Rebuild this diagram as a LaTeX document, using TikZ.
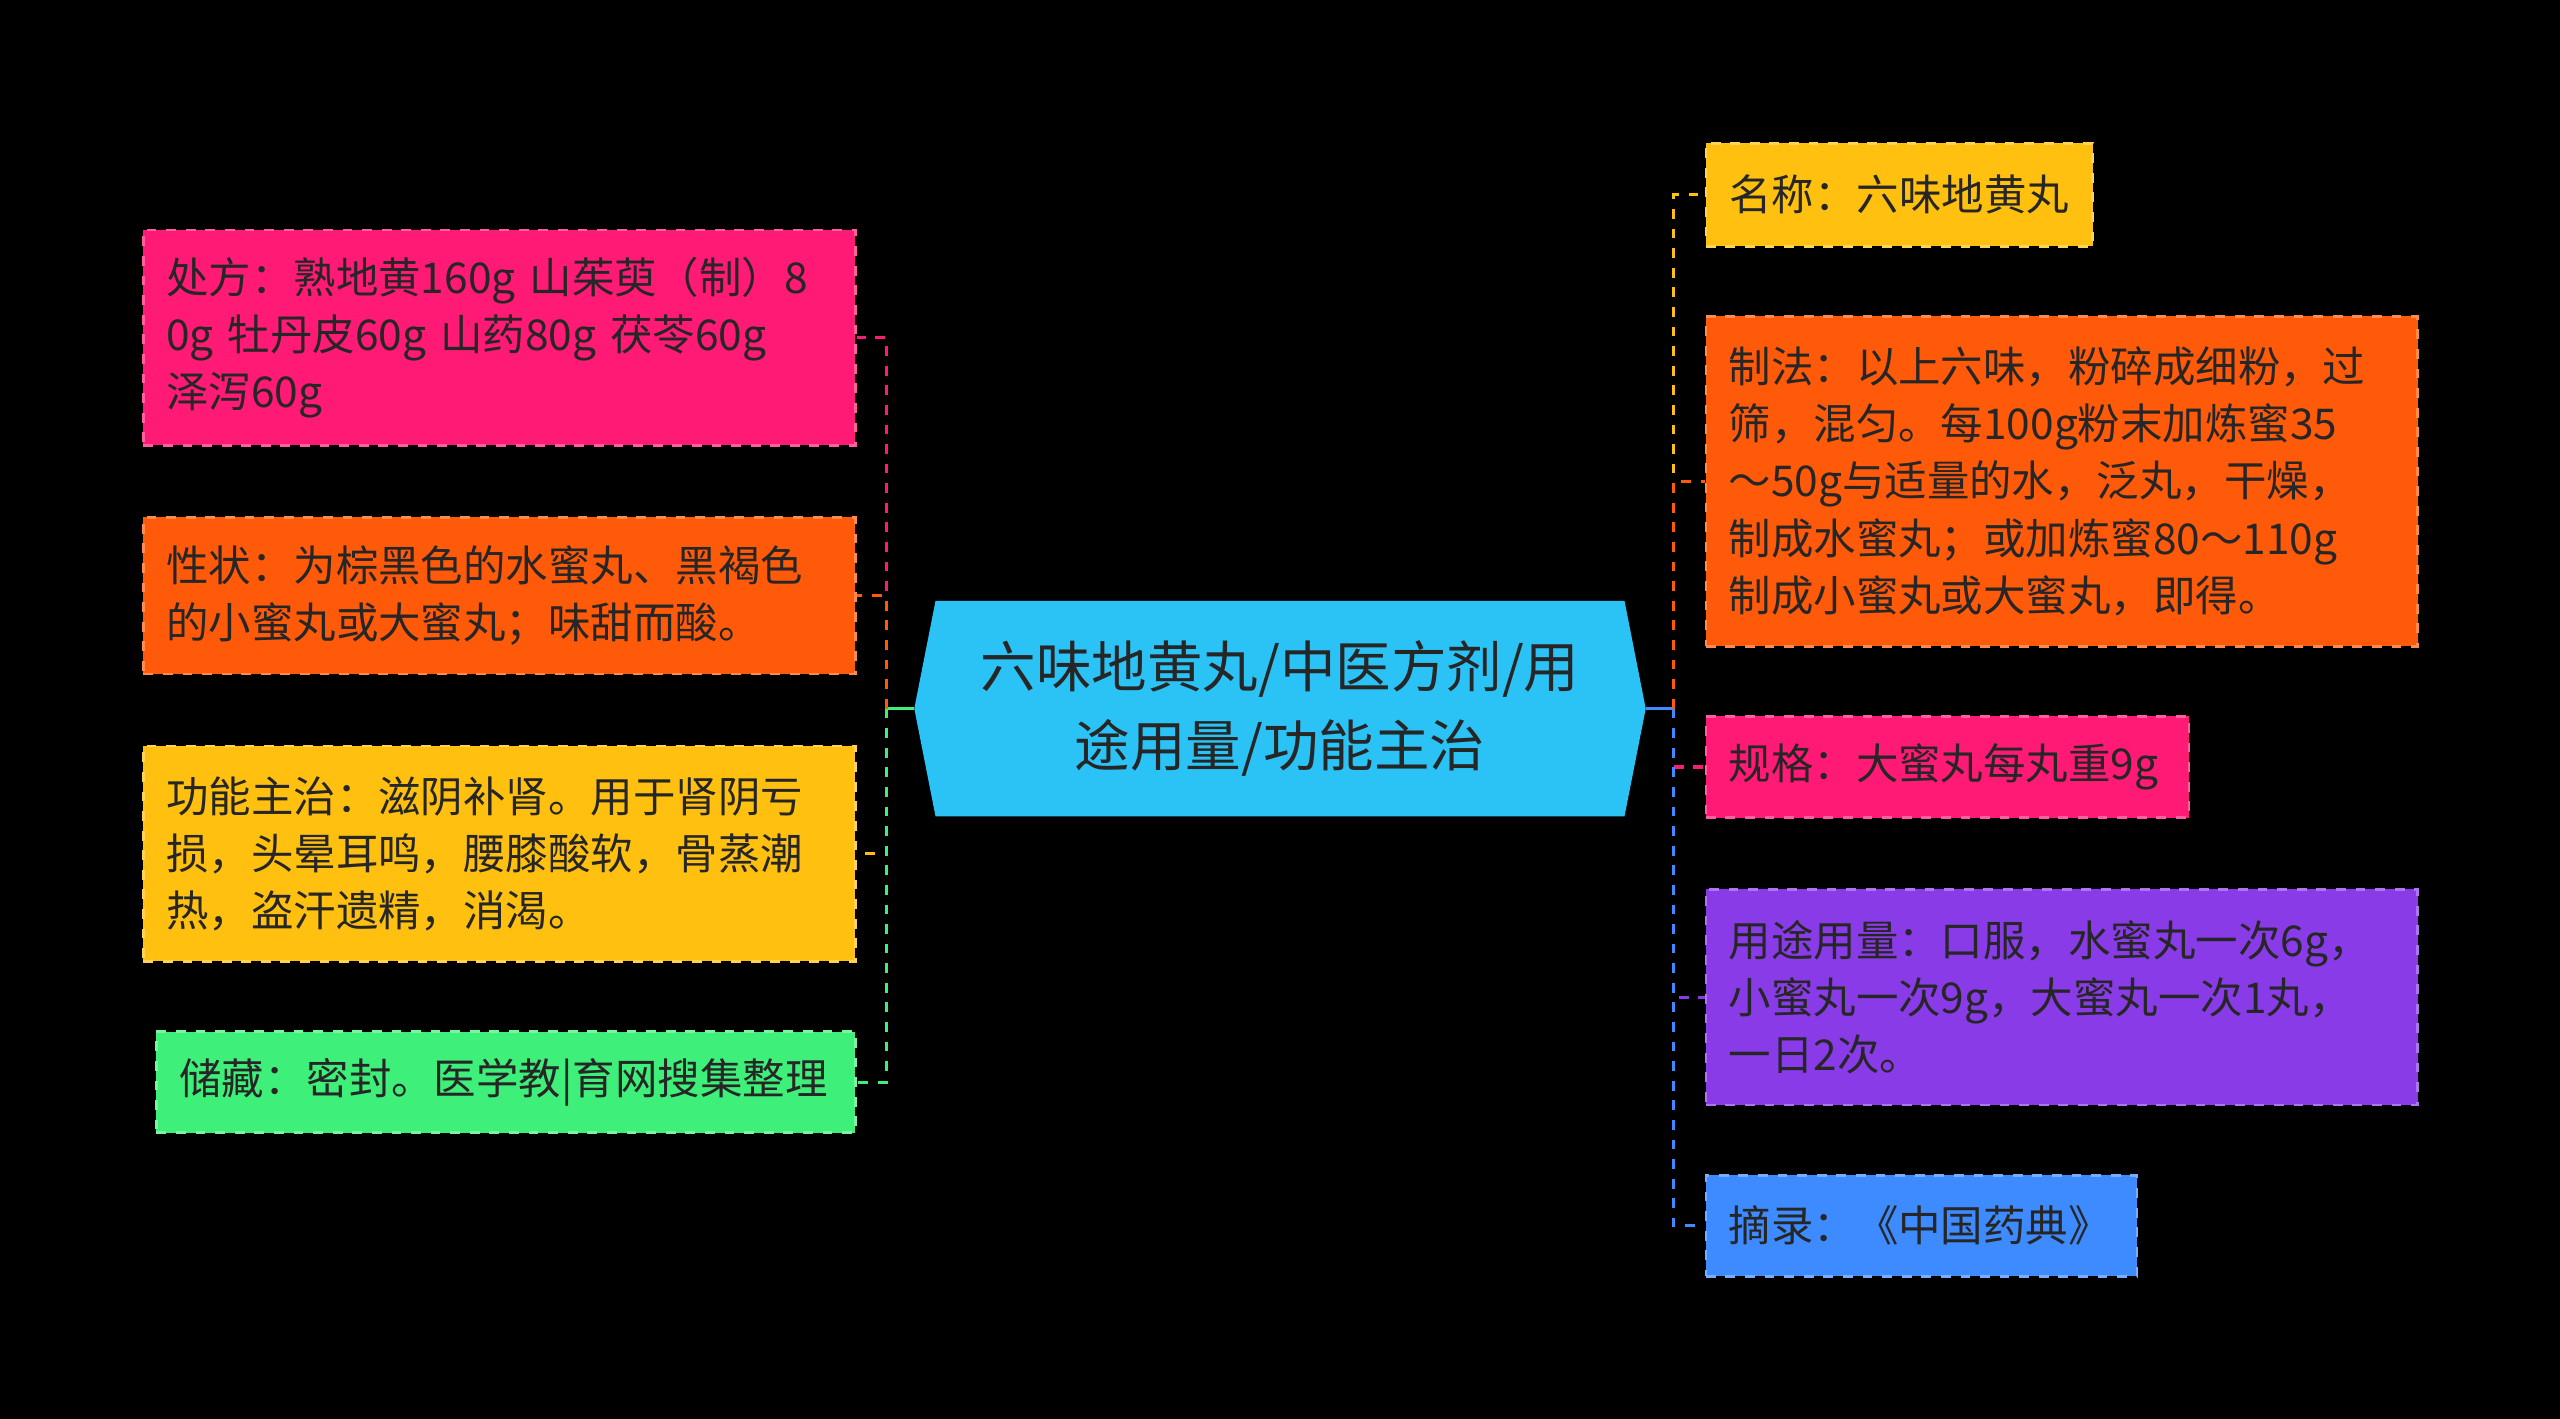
\documentclass[tikz,border=0pt]{standalone}
\usepackage{fontspec}
\setmainfont{Noto Sans CJK SC}
\begin{document}
\begin{tikzpicture}[x=0.5pt,y=-0.5pt,
 box/.style={draw,dashed,line width=0.8pt,anchor=north west,align=left,inner xsep=7pt,inner ysep=0pt,font=\fontsize{13}{17.5}\selectfont,text=black!85},
 bus/.style={dashed,line width=1pt}]
\fill[black] (0,0) rectangle (1568,869);
\definecolor{cpink}{HTML}{FF1A75}\definecolor{corange}{HTML}{FF5A0A}
\definecolor{cyellow}{HTML}{FFC010}\definecolor{cgreen}{HTML}{3EEF7A}
\definecolor{cpurple}{HTML}{8A3BE8}\definecolor{cblue}{HTML}{3D8BFF}
\definecolor{ccyan}{HTML}{2BC3F5}
% center
\fill[ccyan] (560,434)--(573,368)--(995,368)--(1008,434)--(995,500)--(573,500)--cycle;
\node[font=\fontsize{17}{24}\selectfont,align=center,text=black!85] (c) at (784,434) {六味地黄丸/中医方剂/用\\途用量/功能主治};
\coordinate (cl) at (560,434); \coordinate (cr) at (1008,434);
% left
\node[box,fill=cpink,draw=cpink!70!white,minimum width=218pt,minimum height=66pt,text width=204pt] (l1) at (87,140) {处方：熟地黄160g 山茱萸（制）8\\0g 牡丹皮60g 山药80g 茯苓60g\\泽泻60g};
\node[box,fill=corange,draw=corange!70!white,minimum width=218pt,minimum height=48pt,text width=204pt] (l2) at (87,316) {性状：为棕黑色的水蜜丸、黑褐色\\的小蜜丸或大蜜丸；味甜而酸。};
\node[box,fill=cyellow,draw=cyellow!70!white,minimum width=218pt,minimum height=66pt,text width=204pt] (l3) at (87,456) {功能主治：滋阴补肾。用于肾阴亏\\损，头晕耳鸣，腰膝酸软，骨蒸潮\\热，盗汗遗精，消渴。};
\node[box,fill=cgreen,draw=cgreen!70!white,minimum width=214pt,minimum height=31pt,text width=200pt] (l4) at (95,631) {储藏：密封。医学教|育网搜集整理};
% right
\node[box,fill=cyellow,draw=cyellow!70!white,minimum width=118.5pt,minimum height=31.5pt,text width=104pt] (r1) at (1044,87) {名称：六味地黄丸};
\node[box,fill=corange,draw=corange!70!white,minimum width=218pt,minimum height=101pt,text width=204pt] (r2) at (1044,193) {制法：以上六味，粉碎成细粉，过\\筛，混匀。每100g粉末加炼蜜35\\～50g与适量的水，泛丸，干燥，\\制成水蜜丸；或加炼蜜80～110g\\制成小蜜丸或大蜜丸，即得。};
\node[box,fill=cpink,draw=cpink!70!white,minimum width=148pt,minimum height=31pt,text width=134pt] (r3) at (1044,438) {规格：大蜜丸每丸重9g};
\node[box,fill=cpurple,draw=cpurple!70!white,minimum width=218pt,minimum height=66pt,text width=204pt] (r4) at (1044,544) {用途用量：口服，水蜜丸一次6g，\\小蜜丸一次9g，大蜜丸一次1丸，\\一日2次。};
\node[box,fill=cblue,draw=cblue!70!white,minimum width=132pt,minimum height=31pt,text width=118pt] (r5) at (1044,719) {摘录：《中国药典》};
% left connectors
\coordinate (lb) at (543,434);
\draw[cgreen,line width=1pt] (cl)--(lb);
\draw[bus,cpink] (lb) |- (l1.east);
\draw[bus,corange] (lb) |- (l2.east);
\draw[bus,cyellow] (lb) |- (l3.east);
\draw[bus,cgreen] (lb) |- (l4.east);
% right connectors
\coordinate (rb) at (1025,434);
\draw[cblue,line width=1pt] (cr)--(rb);
\draw[bus,cyellow] (rb) |- (r1.west);
\draw[bus,corange] (rb) |- (r2.west);
\draw[bus,cpink] (rb) |- (r3.west);
\draw[bus,cpurple] (rb) |- (r4.west);
\draw[bus,cblue] (rb) |- (r5.west);
\end{tikzpicture}
\end{document}
